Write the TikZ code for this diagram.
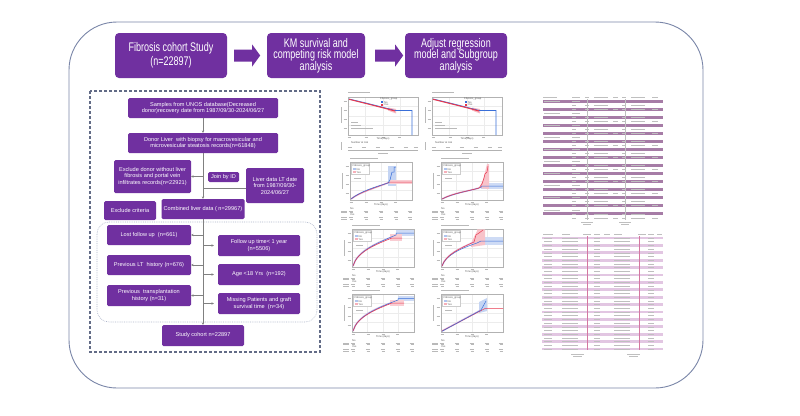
\documentclass[tikz,border=0pt]{standalone}
\usepackage{fontspec}
\setmainfont{Liberation Sans}
\newfontfamily\narrowf[FakeStretch=0.72]{Liberation Sans}
\usetikzlibrary{arrows.meta,calc}
\definecolor{pur}{HTML}{7030A0}
\definecolor{frameblue}{HTML}{7A86A8}
\definecolor{lineg}{HTML}{808080}
\definecolor{stripeA}{HTML}{A67CA6}
\definecolor{stripeB}{HTML}{E2C6E2}
\definecolor{kmred}{HTML}{E8384F}
\definecolor{kmblue}{HTML}{3A6FD8}
\newcommand{\myplotframe}[2]{%
  \fill[white] (0,0) rectangle (#1,#2);
  \foreach \g in {0.25,0.5,0.75} {
    \draw[gray!15, line width=0.2pt] (\g*#1,0) -- (\g*#1,#2);
    \draw[gray!15, line width=0.2pt] (0,\g*#2) -- (#1,\g*#2);
  }
  \draw[gray!60, line width=0.3pt] (0,0) rectangle (#1,#2);
  \foreach \t in {4,13,22,31} \draw[bar, line width=0.5pt] (-4.5,\t) -- (-1.2,\t);
  \foreach \t in {0.02,0.26,0.5,0.74} \draw[bar, line width=0.5pt] (\t*#1-1.5,40.3) -- (\t*#1+1.5,40.3);
}
\newcommand{\mycifbase}{%
  \draw[bar] (0,-3.5) -- (28,-3.5);
  \draw[bar] (-8,11) -- (-8,27);
  \myplotframe{62}{38}
  \node[tiny] at (31,43.3) {Time (days)};
  \draw[gray!40, line width=0.2pt, fill=white] (1.5,1.5) rectangle (19,12);
  \node[tiny, anchor=west] at (2.5,3.8) {Fibrosis\_group};
  \fill[kmblue!40] (3,6.2) rectangle (5.5,8.2);
  \node[tiny, anchor=west] at (6.5,7.2) {No};
  \fill[kmred!40] (3,9.2) rectangle (5.5,11.2);
  \node[tiny, anchor=west] at (6.5,10.2) {Yes};
  \draw[bar, line width=0.5pt] (4,16.5) -- (11,16.5);
  \node[tiny, anchor=west] at (0,46.3) {No};
  \node[tiny, anchor=west] at (0,52.6) {Yes};
  \foreach \r in {49,55.3} {
    \draw[bar, line width=0.5pt] (-9,\r) -- (-3,\r);
    \draw[bar, line width=0.5pt] (-9,\r+1.7) -- (-3,\r+1.7);
    \foreach \c in {1,16,31,46,60} {
      \draw[bar, line width=0.5pt] (\c-2.2,\r) -- (\c+2.2,\r);
      \draw[bar, line width=0.5pt] (\c-1.5,\r+1.7) -- (\c+1.5,\r+1.7);
    }
  }
}
\newcommand{\mykmbase}{%
  \draw[bar] (0,-4.5) -- (22,-4.5);
  \draw[bar] (-6.5,10) -- (-6.5,26);
  \myplotframe{70}{38}
  \node[tiny] at (35,42.3) {Time(days)};
  \node[tiny, anchor=west] at (32,2.2) {Fibrosis\_group};
  \fill[kmblue] (33,4.4) rectangle (35,6);
  \node[tiny, anchor=west] at (36,5.2) {No};
  \fill[kmred] (33,7.2) rectangle (35,8.8);
  \node[tiny, anchor=west] at (36,8) {Yes};
  \draw[bar, line width=0.5pt] (3,25) -- (10,25);
  \draw[bar, line width=0.5pt] (3,28) -- (13,28);
  \draw[bar, line width=0.5pt] (3,31) -- (25,31);
  \node[tiny, anchor=west] at (3,46) {Number at risk};
  \draw[bar, line width=0.5pt] (-6.5,45) -- (-6.5,53);
  \foreach \c in {2,16,30,44,58,68} \draw[bar, line width=0.5pt] (\c-2.2,50) -- (\c+2.2,50);
  \draw[gray!60, line width=0.3pt] (0,53) -- (70,53);
  \draw[bar, line width=0.5pt] (30,56) -- (40,56);
}
\begin{document}
\begin{tikzpicture}[x=1pt,y=-1pt,
  head/.style={fill=pur, rounded corners=4pt, text=white, align=center, inner sep=0pt},
  fbox/.style={fill=pur, rounded corners=1.5pt, text=white, font=\fontsize{5.6}{6.5}\selectfont, align=center, inner sep=0pt},
  conn/.style={draw=lineg, line width=0.6pt},
  arr/.style={conn, -{Stealth[length=2.4pt,width=2.4pt]}},
  bar/.style={line width=0.7pt, draw=gray!55},
  tiny/.style={font=\fontsize{2.6}{3}\selectfont, text=gray!70!black, inner sep=0pt},
  tbar/.style={line width=0.6pt, draw=gray!50}
]
\useasboundingbox (0,0) rectangle (800,415);
\fill[white] (0,0) rectangle (800,415);

% outer frame
\draw[frameblue, line width=0.9pt, rounded corners=48pt] (69,22) rectangle (703,388);

% header
\node[head, minimum width=112pt, minimum height=45pt, font=\narrowf\fontsize{12.5}{14}\selectfont] (fib) at (171,55.5) {Fibrosis cohort Study\\(n=22897)};
\node[head, minimum width=98pt, minimum height=45pt, font=\narrowf\fontsize{12.5}{11.7}\selectfont] (km) at (316,55.5) {KM survival and\\competing risk model\\analysis};
\node[head, minimum width=102pt, minimum height=45pt, font=\narrowf\fontsize{12.5}{11.7}\selectfont] (adj) at (456,55.5) {Adjust regression\\model and Subgroup\\analysis};
\fill[pur] ($(fib.east)+(7,-6)$) -- ++(18,0) -- ++(0,-5) -- ++(8,11) -- ++(-8,11) -- ++(0,-5) -- ++(-18,0) -- cycle;
\fill[pur] ($(km.east)+(10,-6)$) -- ++(20,0) -- ++(0,-5) -- ++(8,11) -- ++(-8,11) -- ++(0,-5) -- ++(-20,0) -- cycle;

% flowchart frames
\draw[frameblue!80!black, line width=1.1pt, dash pattern=on 3pt off 2pt] (90,91) rectangle (320,352);
\draw[frameblue!60, line width=0.6pt, dash pattern=on 0.8pt off 1pt, rounded corners=12pt] (97,222) rectangle (317,322);

% flowchart nodes
\node[fbox, minimum width=150pt, minimum height=20pt] (samples) at (203,108) {Samples from UNOS database(Decreased\\donor)recovery date from 1987/09/30-2024/06/27};
\node[fbox, minimum width=150pt, minimum height=20pt] (donor) at (203,143) {Donor Liver\ \ with biopsy for macrovesicular and\\microvesicular steatosis records(n=61848)};
\node[fbox, minimum width=77pt, minimum height=33pt] (excl1) at (152.5,176.5) {Exclude donor without liver\\fibrosis and portal vein\\infiltrates records(n=22921)};
\node[fbox, minimum width=31pt, minimum height=10pt] (join) at (223.5,177) {Join by ID};
\node[fbox, minimum width=58pt, minimum height=35pt] (liver) at (275,185.5) {Liver data LT date\\from 1987/09/30-\\2024/06/27};
\node[fbox, minimum width=52pt, minimum height=19pt] (crit) at (130,210.5) {Exclude criteria};
\node[fbox, minimum width=83pt, minimum height=20pt] (combined) at (203,209) {Combined liver data ( n=29967)};
\node[fbox, minimum width=84pt, minimum height=20pt] (lost) at (149,235) {Lost follow up\ \ (n=661)};
\node[fbox, minimum width=84pt, minimum height=20pt] (prevlt) at (149,265) {Previous LT\ \ history (n=676)};
\node[fbox, minimum width=84pt, minimum height=21pt] (prevtx) at (149,295.5) {Previous\ \ transplantation\\history (n=31)};
\node[fbox, minimum width=82pt, minimum height=21pt] (fut) at (259,245.5) {Follow up time{<} 1 year\\(n=5506)};
\node[fbox, minimum width=82pt, minimum height=21pt] (age) at (259,274.5) {Age {<}18 Yrs\ \ (n=192)};
\node[fbox, minimum width=82pt, minimum height=21pt] (missing) at (259,303.5) {Missing Patients and graft\\survival time\ \ (n=34)};
\node[fbox, minimum width=82pt, minimum height=21pt] (study) at (203,335.5) {Study cohort n=22897};

% flowchart connectors
\draw[arr] (samples) -- (donor);
\draw[arr] (donor.south) -- (donor.south |- combined.north);
\draw[arr] (donor.south |- excl1.east) -- (excl1.east);
\draw[conn] ($(liver.west)+(0,2.5)$) -- ($(donor.south |- liver.west)+(0,2.5)$);
\draw[arr] (combined.south) -- (combined.south |- study.north);
\draw[arr] (combined.south |- lost.east) -- (lost.east);
\draw[arr] (combined.south |- prevlt.east) -- (prevlt.east);
\draw[arr] (combined.south |- prevtx.east) -- (prevtx.east);
\draw[arr, shorten >=4pt] (combined.south |- fut.west) -- (fut.west);
\draw[arr, shorten >=4pt] (combined.south |- age.west) -- (age.west);
\draw[arr, shorten >=4pt] (combined.south |- missing.west) -- (missing.west);

% ---------- KM plots (row 1) ----------
\begin{scope}[shift={(348,97)}]
  \mykmbase
  \fill[kmred!35] (40,10.5) -- (48,12) -- (48,16.5) -- (40,13.5) -- cycle;
  \draw[kmblue, line width=0.8pt] (1,2) .. controls (18,6) and (34,10) .. (47,13.5) -- (64,13.5) -- (64,38);
  \draw[kmred, line width=1pt] (1,2.3) .. controls (18,6.5) and (34,10.5) .. (47,14);
\end{scope}
\begin{scope}[shift={(432,97)}]
  \mykmbase
  \fill[kmred!35] (40,10.5) -- (48,12) -- (48,16.5) -- (40,13.5) -- cycle;
  \draw[kmblue, line width=0.8pt] (1,2) .. controls (18,6) and (34,10) .. (47,13.5) -- (64,13.5) -- (64,38);
  \draw[kmred, line width=1pt] (1,2.3) .. controls (18,6.5) and (34,10.5) .. (47,14);
\end{scope}

% ---------- CIF plots ----------
\begin{scope}[shift={(350,162)}]
  \mycifbase
  \fill[kmblue!30] (38,4) rectangle (46,24);
  \fill[kmred!25] (40,18) rectangle (62,22);
  \draw[violet!25, line width=1.6pt] (1,37) .. controls (10,30) and (25,26) .. (39,20.5);
  \draw[kmred, line width=0.5pt] (1,37) .. controls (10,30) and (25,26) .. (40,20) -- (62,20);
  \draw[kmblue, line width=0.5pt] (1,37) .. controls (10,29.5) and (25,25) .. (38,21) -- (40,18) -- (42,10) -- (44,10) -- (44,5) -- (46,5);
\end{scope}
\begin{scope}[shift={(441,162)}]
  \mycifbase
  \fill[kmblue!25] (40,21) rectangle (62,27);
  \fill[kmred!30] (38,26) -- (42,18) -- (44,10) -- (46,2) -- (48,2) -- (48,27) -- cycle;
  \draw[violet!25, line width=1.6pt] (1,37) .. controls (12,31) and (28,29) .. (38,26);
  \draw[kmblue, line width=0.5pt] (1,37) .. controls (12,31.5) and (28,29) .. (40,25.5) -- (40,24) -- (62,24);
  \draw[kmred, line width=0.5pt] (1,37) .. controls (12,31) and (28,29) .. (38,26) -- (41,22) -- (43,16) -- (44,12) -- (46,10) -- (47,4);
\end{scope}
\begin{scope}[shift={(352,229)}]
  \mycifbase
  \fill[kmblue!25] (44,1) rectangle (62,7);
  \fill[kmred!25] (38,5) rectangle (50,12);
  \draw[violet!25, line width=1.6pt] (1,37) .. controls (5,22) and (25,14) .. (40,8);
  \draw[kmblue, line width=0.5pt] (1,37) .. controls (5,22) and (25,14) .. (44,6) -- (44,4) -- (62,4);
  \draw[kmred, line width=0.5pt] (1,37) .. controls (5,22.5) and (25,15) .. (40,9) -- (50,9);
\end{scope}
\begin{scope}[shift={(441,229)}]
  \mycifbase
  \fill[kmblue!25] (40,8) rectangle (62,16);
  \fill[kmred!30] (30,14) -- (33,8) -- (36,2) -- (36,0.3) -- (44,0.3) -- (44,16) -- (30,18) -- cycle;
  \draw[violet!25, line width=1.6pt] (1,37) .. controls (5,25) and (20,19) .. (33,13);
  \draw[kmblue, line width=0.5pt] (1,37) .. controls (5,25.5) and (20,19.5) .. (36,14) -- (40,12) -- (62,12);
  \draw[kmred, line width=0.5pt] (1,37) .. controls (5,25) and (20,19) .. (33,13) -- (35,6) -- (38,4) -- (42,1);
\end{scope}
\begin{scope}[shift={(352,294)}]
  \mycifbase
  \fill[kmblue!25] (46,2) rectangle (62,7);
  \fill[kmred!25] (38,6) rectangle (52,12);
  \draw[violet!25, line width=1.6pt] (1,37) .. controls (5,22) and (25,14) .. (40,8.5);
  \draw[kmblue, line width=0.5pt] (1,37) .. controls (5,22) and (25,14) .. (46,6) -- (46,4.5) -- (62,4.5);
  \draw[kmred, line width=0.5pt] (1,37) .. controls (5,22.5) and (25,15) .. (40,9) -- (52,9);
\end{scope}
\begin{scope}[shift={(441,294)}]
  \mycifbase
  \fill[kmblue!30] (38,8) -- (46,4) -- (46,17) -- (38,19) -- cycle;
  \draw[violet!25, line width=1.6pt] (1,37) -- (40,16);
  \draw[kmred, line width=0.5pt] (1,37) -- (44,14.5) -- (62,14.5);
  \draw[kmblue, line width=0.5pt] (1,37.3) -- (40,16) -- (45,7);
\end{scope}

% ---------- table 1 ----------
\foreach \c/\w in {543/14,572/8,585/4,594/14,613/5,622/4,631/14,652/6} \draw[tbar] (\c,97.5) -- (\c+\w,97.5);
\foreach \i [evaluate=\i as \y using 101+4.03*\i] in {0,...,29} {
  \pgfmathtruncatemacro{\ev}{mod(\i,2)}
  \pgfmathtruncatemacro{\tr}{mod(\i,3)}
  \ifnum\ev=0 \fill[stripeA] (543,\y-1.5) rectangle (663,\y+1.5); \fi
  \ifnum\tr=0
    \draw[tbar] (544,\y) -- (560,\y);
    \draw[tbar] (572,\y) -- (580,\y);
  \else
    \draw[tbar] (572,\y) -- (576,\y);
    \draw[tbar] (585,\y) -- (589,\y);
    \draw[tbar] (594,\y) -- (608,\y);
    \draw[tbar] (622,\y) -- (626,\y);
    \draw[tbar] (631,\y) -- (645,\y);
    \ifnum\tr=2
      \draw[tbar] (613,\y) -- (618,\y);
      \draw[tbar] (652,\y) -- (658,\y);
    \fi
  \fi
}
\draw[gray!50, line width=0.3pt] (587,99) -- (587,220);
\draw[gray!50, line width=0.3pt] (625,99) -- (625,220);
\draw[tbar] (581,222) -- (593,222);
\draw[tbar] (619,222) -- (631,222);
\draw[tbar, line width=0.4pt] (583,224.5) -- (591,224.5);
\draw[tbar, line width=0.4pt] (621,224.5) -- (629,224.5);

% ---------- table 2 ----------
\foreach \c/\w in {543/10,562/8,583/8,594/6,604/6,614/8,638/8,648/6,657/5} \draw[tbar] (\c,234.5) -- (\c+\w,234.5);
\foreach \i [evaluate=\i as \y using 238+3.7*\i] in {0,...,30} {
  \pgfmathtruncatemacro{\ev}{mod(\i,2)}
  \ifnum\ev=0 \fill[stripeB] (542,\y-1.4) rectangle (663,\y+1.4); \fi
  \draw[tbar, line width=0.5pt] (544,\y) -- (552,\y);
  \draw[tbar, line width=0.5pt] (562,\y) -- (578,\y);
  \draw[tbar, line width=0.5pt] (594,\y) -- (600,\y);
  \draw[tbar, line width=0.5pt] (614,\y) -- (630,\y);
  \draw[tbar, line width=0.5pt] (648,\y) -- (654,\y);
}
\draw[stripeB!60!purple, line width=0.3pt] (587,236) -- (587,350);
\draw[stripeB!60!purple, line width=0.3pt] (639,236) -- (639,350);
\draw[tbar] (571,354) -- (584,354);
\draw[tbar] (627,354) -- (640,354);
\draw[tbar, line width=0.4pt] (573,356.5) -- (582,356.5);
\draw[tbar, line width=0.4pt] (629,356.5) -- (638,356.5);
\end{tikzpicture}
\end{document}
